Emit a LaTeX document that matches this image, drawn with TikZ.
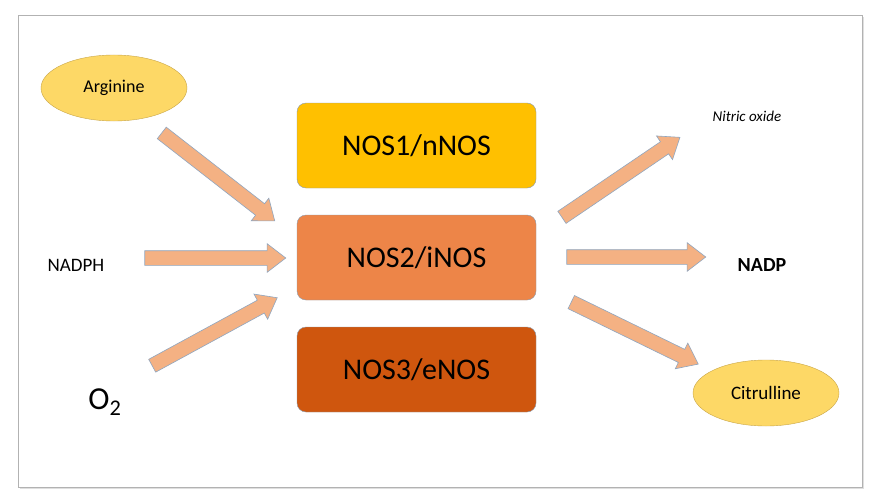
\documentclass[tikz,border=0pt]{standalone}
\usepackage{fontspec}
\setmainfont{Carlito}
\usetikzlibrary{shapes.arrows,shapes.geometric,calc,shadows}
\definecolor{arrfill}{HTML}{F4B183}
\definecolor{arrdraw}{HTML}{8FA6C0}
\definecolor{ell}{HTML}{FDD866}
\definecolor{elld}{HTML}{C9A648}
\definecolor{nosa}{HTML}{FFC000}
\definecolor{nosb}{HTML}{ED8548}
\definecolor{nosc}{HTML}{CF560E}
\tikzset{
 blk/.style={rounded corners=9pt,draw=arrdraw!70!gray,minimum width=239pt,minimum height=85pt,inner sep=0,font=\fontsize{30}{34}\selectfont},
 el/.style={ellipse,fill=ell,draw=elld,minimum width=146pt,minimum height=66pt,inner sep=0},
 barrow/.style={single arrow,fill=arrfill,draw=arrdraw,single arrow head extend=7pt,single arrow tip angle=75,inner sep=0,line width=0.6pt},
}
\newcommand{\blockarr}[2]{\path let \p1=($(#2)-(#1)$), \n1={atan2(\y1,\x1)}, \n2={veclen(\x1,\y1)} in node[barrow,minimum height=\n2,rotate=\n1] at ($(#1)!0.5!(#2)$) {\rule{0pt}{14pt}};}
\begin{document}
\begin{tikzpicture}[x=1pt,y=-1pt]
\useasboundingbox (0,0) rectangle (883,503);
\draw[gray!60,fill=white,drop shadow={opacity=0.25,shadow xshift=2pt,shadow yshift=-2pt}] (18,15) rectangle (862,487);
\node[el,font=\fontsize{18}{21}\selectfont] (arg) at (114,88) {Arginine};
\node[el,font=\fontsize{19}{22}\selectfont] (cit) at (766,393) {Citrulline};
\node[blk,fill=nosa] (n1) at (416.5,145.5) {NOS1/nNOS};
\node[blk,fill=nosb] (n2) at (416.5,257.5) {NOS2/iNOS};
\node[blk,fill=nosc] (n3) at (416.5,369.5) {NOS3/eNOS};
\node[font=\fontsize{19}{22}\selectfont] (nadph) at (76,265) {NADPH};
\node[font=\fontsize{32}{36}\selectfont] (o2) at (105,402) {O\textsubscript{2}};
\node[font=\fontsize{15}{18}\selectfont\itshape] (no) at (747,116) {Nitric oxide};
\node[font=\fontsize{20}{24}\selectfont\bfseries] (nadp) at (762,265) {NADP};
\coordinate (a1) at (158,130); \coordinate (b1) at (271,218);
\coordinate (a2) at (140,258); \coordinate (b2) at (281,258);
\coordinate (a3) at (148,368); \coordinate (b3) at (273,300);
\coordinate (a4) at (558,220); \coordinate (b4) at (676,140);
\coordinate (a5) at (562,257); \coordinate (b5) at (701,257);
\coordinate (a6) at (567,300); \coordinate (b6) at (694,362);
\blockarr{a1}{b1}\blockarr{a2}{b2}\blockarr{a3}{b3}
\blockarr{a4}{b4}\blockarr{a5}{b5}\blockarr{a6}{b6}
\end{tikzpicture}
\end{document}
